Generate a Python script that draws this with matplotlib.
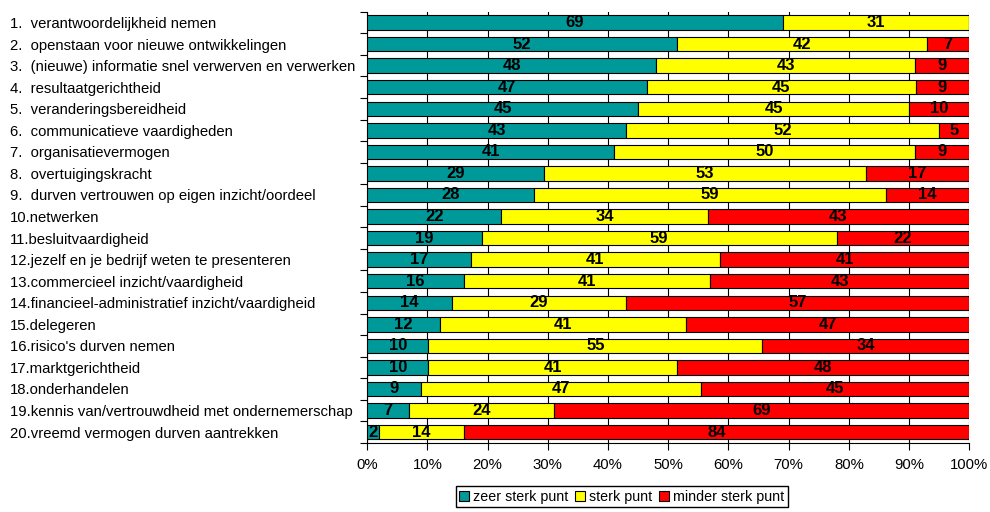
import numpy as np
import matplotlib.pyplot as plt
from matplotlib.ticker import MultipleLocator, FuncFormatter

plt.rcParams['font.family'] = ['Liberation Sans', 'DejaVu Sans']

categories = [
    "1.  verantwoordelijkheid nemen",
    "2.  openstaan voor nieuwe ontwikkelingen",
    "3.  (nieuwe) informatie snel verwerven en verwerken",
    "4.  resultaatgerichtheid",
    "5.  veranderingsbereidheid",
    "6.  communicatieve vaardigheden",
    "7.  organisatievermogen",
    "8.  overtuigingskracht",
    "9.  durven vertrouwen op eigen inzicht/oordeel",
    "10.netwerken",
    "11.besluitvaardigheid",
    "12.jezelf en je bedrijf weten te presenteren",
    "13.commercieel inzicht/vaardigheid",
    "14.financieel-administratief inzicht/vaardigheid",
    "15.delegeren",
    "16.risico's durven nemen",
    "17.marktgerichtheid",
    "18.onderhandelen",
    "19.kennis van/vertrouwdheid met ondernemerschap",
    "20.vreemd vermogen durven aantrekken",
]
zeer_sterk = [69, 52, 48, 47, 45, 43, 41, 29, 28, 22, 19, 17, 16, 14, 12, 10, 10, 9, 7, 2]
sterk = [31, 42, 43, 45, 45, 52, 50, 53, 59, 34, 59, 41, 41, 29, 41, 55, 41, 47, 24, 14]
minder_sterk = [0, 7, 9, 9, 10, 5, 9, 17, 14, 43, 22, 41, 43, 57, 47, 34, 48, 45, 69, 84]

series = [zeer_sterk, sterk, minder_sterk]
names = ["zeer sterk punt", "sterk punt", "minder sterk punt"]
colors = ["#009999", "#ffff00", "#ff0000"]

vals = np.array(series, dtype=float)
share = vals / vals.sum(axis=0) * 100
y = np.arange(len(categories))

fig = plt.figure(figsize=(9.9, 5.12), dpi=100)
ax = fig.add_axes([0.371, 0.135, 0.608, 0.842])

left = np.zeros(len(categories))
for i in range(3):
    bars = ax.barh(y, share[i], left=left, height=0.67, color=colors[i],
                   edgecolor="black", linewidth=0.8, label=names[i], zorder=3)
    labels = [str(v) if v > 0 else "" for v in series[i]]
    ax.bar_label(bars, labels=labels, label_type="center", fontsize=12,
                 fontweight="bold", color="black", zorder=4,
                 family=["Liberation Sans Narrow", "Liberation Sans", "DejaVu Sans"])
    left += share[i]

ax.set_xlim(0, 100)
ax.set_ylim(len(categories) - 0.5, -0.5)
ax.xaxis.set_major_locator(MultipleLocator(10))
ax.xaxis.set_major_formatter(FuncFormatter(lambda v, p: f"{v:.0f}%"))
ax.grid(axis="x", color="black", linewidth=0.8, zorder=0)

ax.set_yticks(y)
ax.set_yticklabels(categories, ha="left", fontsize=10.7)
ax.set_yticks(np.arange(len(categories) + 1) - 0.5, minor=True)
ax.tick_params(axis="y", which="major", length=0, pad=257)
ax.tick_params(axis="y", which="minor", length=5, width=0.8)
ax.tick_params(axis="x", length=5, width=0.8, labelsize=10.7, pad=6)

for s in ["top", "right"]:
    ax.spines[s].set_visible(False)
ax.spines["left"].set_linewidth(0.8)
ax.spines["bottom"].set_linewidth(0.8)

fig.legend(loc="center", bbox_to_anchor=(0.628, 0.03), ncol=3, fontsize=10.3,
           frameon=True, fancybox=False, edgecolor="black", handlelength=0.7,
           handleheight=0.7, handletextpad=0.25, columnspacing=0.5,
           borderpad=0.25, framealpha=1)

fig.savefig("out.png", dpi=100)
